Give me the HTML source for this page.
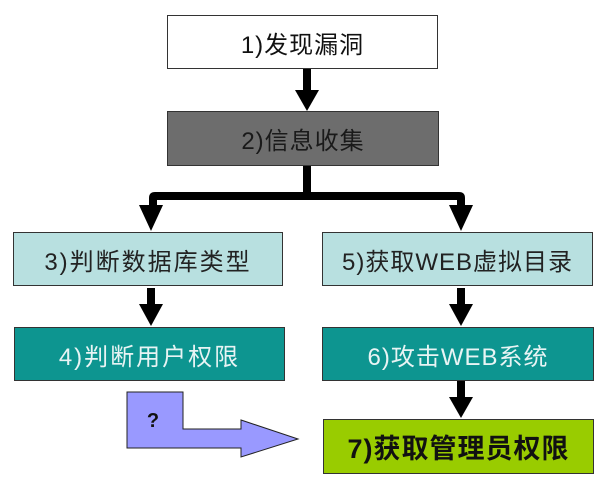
<!DOCTYPE html>
<html><head><meta charset="utf-8"><style>
body{margin:0;width:607px;height:484px;background:#fff;overflow:hidden;position:relative;font-family:"Liberation Sans","Noto Sans CJK SC",sans-serif}
.b{position:absolute;box-sizing:border-box;border:1px solid #333;display:flex;align-items:center;justify-content:center;font-size:24px;letter-spacing:1px}
</style></head><body>
<div class="b" style="left:167px;top:15px;width:271px;height:54px;background:#fff;color:#111">1)发现漏洞</div>
<div class="b" style="left:167px;top:111px;width:272px;height:55px;background:#6d6d6d;color:#1a1a1a">2)信息收集</div>
<div class="b" style="left:13px;top:232px;width:270px;height:54px;background:#b8e0e0;color:#222;letter-spacing:2px">3)判断数据库类型</div>
<div class="b" style="left:322px;top:232px;width:271px;height:54px;background:#b8e0e0;color:#222">5)获取WEB虚拟目录</div>
<div class="b" style="left:14px;top:327px;width:271px;height:54px;background:#0d9590;color:#e8f4f4;letter-spacing:2px">4)判断用户权限</div>
<div class="b" style="left:322px;top:327px;width:272px;height:54px;background:#0d9590;color:#e8f4f4">6)攻击WEB系统</div>
<div class="b" style="left:323px;top:419px;width:271px;height:55px;background:#99cc00;color:#111;font-size:27px;font-weight:bold">7)获取管理员权限</div>
<svg width="607" height="484" style="position:absolute;left:0;top:0">
<g fill="#000">
<rect x="303" y="69" width="8" height="22"/><polygon points="295,90 319,90 307,111"/>
<rect x="303" y="166" width="8" height="30"/>
<path d="M149 205 V198 Q149 192 155 192 H459 Q465 192 465 198 V205 H457 V200 H157 V205 Z"/>
<polygon points="139,205 163,205 151,231"/><polygon points="449,205 473,205 461,231"/>
<rect x="147" y="288" width="8" height="18"/><polygon points="139,304 163,304 151,326"/>
<rect x="457" y="288" width="8" height="18"/><polygon points="449,304 473,304 461,326"/>
<rect x="457" y="381" width="8" height="18"/><polygon points="449,397 473,397 461,418"/>
</g>
<polygon points="127,392 183,392 183,429 241,429 241,420 298,439 241,457 241,448 127,448" fill="#9999ff" stroke="#222" stroke-width="1"/>
<text x="153" y="427" font-family="Liberation Sans,sans-serif" font-weight="bold" font-size="20" text-anchor="middle" fill="#111">?</text>
</svg>
</body></html>
